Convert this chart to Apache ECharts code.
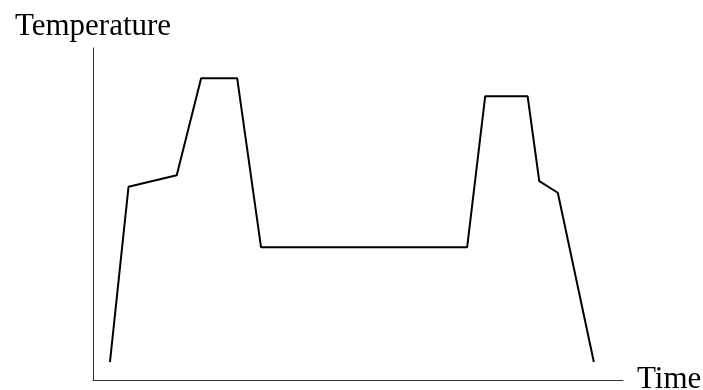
<!DOCTYPE html>
<html>
<head>
<meta charset="utf-8">
<script src="https://cdn.jsdelivr.net/npm/echarts@6/dist/echarts.min.js"></script>
<style>
  html, body { margin: 0; padding: 0; background: #fff; }
  #chart { width: 703px; height: 390px; }
</style>
</head>
<body>
<div id="chart"></div>
<script>
// time / temperature profile, both axes on a 0..100 scale
var timeValues = [3.2, 6.7, 15.8, 20.4, 27.2, 31.7, 70.6, 74.0, 82.0, 84.2, 87.7, 94.5];
var tempValues = [5.4, 58.2, 61.7, 90.9, 90.9, 40.0, 40.0, 85.5, 85.5, 59.9, 56.4, 5.4];

var xName = 'Time';
var yName = 'Temperature';

var points = [];
timeValues.map(function(t, i) {
	points.push([t, tempValues[i]]);
});

var myChart = echarts.init(document.getElementById('chart'));

var option = {
	backgroundColor: '#fff',
	animation: false,
	grid: {
		left: 93,
		right: 80,
		top: 48,
		bottom: 10,
		outerBoundsMode: 'none'
	},
	xAxis: {
		type: 'value',
		min: 0,
		max: 100,
		name: xName,
		nameLocation: 'end',
		nameGap: 14,
		nameTextStyle: {
			color: '#000',
			fontSize: 31,
			fontFamily: 'Liberation Serif',
			verticalAlign: 'middle'
		},
		axisLine: { lineStyle: { color: '#333', width: 1 } },
		axisTick: { show: false },
		axisLabel: { show: false },
		splitLine: { show: false }
	},
	yAxis: {
		type: 'value',
		min: 0,
		max: 100,
		name: yName,
		nameLocation: 'end',
		nameGap: 6,
		nameTextStyle: {
			color: '#000',
			fontSize: 31,
			fontFamily: 'Liberation Serif'
		},
		axisLine: { show: true, lineStyle: { color: '#333', width: 1 } },
		axisTick: { show: false },
		axisLabel: { show: false },
		splitLine: { show: false }
	},
	series: [{
		type: 'line',
		data: points,
		symbol: 'none',
		lineStyle: { color: '#000', width: 2 }
	}]
};

myChart.setOption(option);
</script>
</body>
</html>
